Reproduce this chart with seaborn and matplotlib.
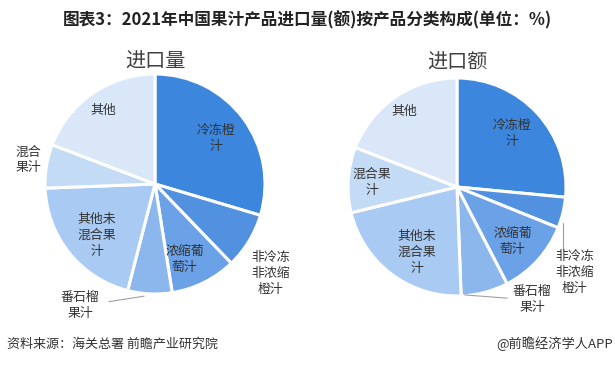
import matplotlib

matplotlib.use("Agg")

import matplotlib.pyplot as plt
import seaborn as sns

sns.set_theme(style="white")
plt.rcParams["font.family"] = ["Noto Sans CJK SC", "DejaVu Sans"]

# data (%), clockwise from 12 o'clock
categories = ["冷冻橙汁", "非冷冻非浓缩橙汁", "浓缩葡萄汁", "番石榴果汁",
              "其他未混合果汁", "混合果汁", "其他"]
volume_share = [29.6, 8.2, 9.7, 6.5, 20.4, 6.4, 19.2]
value_share = [26.5, 4.6, 11.3, 7.0, 21.8, 9.7, 19.1]
label_text = ["冷冻橙\n汁", "非冷冻\n非浓缩\n橙汁", "浓缩葡\n萄汁", "番石榴\n果汁",
              "其他未\n混合果\n汁", "混合\n果汁", "其他"]
label_text_value = ["冷冻橙\n汁", "非冷冻\n非浓缩\n橙汁", "浓缩葡\n萄汁", "番石榴\n果汁",
                    "其他未\n混合果\n汁", "混合果\n汁", "其他"]

colors = ["#3c86dd", "#5290e0", "#6ba1e6", "#8cb7ed", "#a9caf2", "#c4dbf6", "#d9e7f8"]

W, H = 615, 365
fig = plt.figure(figsize=(W / 100, H / 100), dpi=100)


def pie_axes(cx, cy, r):
    ax = fig.add_axes([(cx - r) / W, (H - cy - r) / H, 2 * r / W, 2 * r / H])
    return ax


def draw_pie(ax, values, texts, label_pos, leaders, title, title_y):
    ax.pie(values, colors=colors, startangle=90, counterclock=False, radius=1,
           wedgeprops={"edgecolor": "white", "linewidth": 2.2})
    # pie() resets the limits, so fix them afterwards
    ax.set_xlim(-1, 1)
    ax.set_ylim(-1, 1)
    ax.axis("off")
    for t, (x, y) in zip(texts, label_pos):
        ax.text(x, y, t, ha="center", va="center", fontsize=9.3,
                color="#333333", linespacing=1.3)
    for xs, ys in leaders:
        ax.plot(xs, ys, color="#a0a0a0", lw=0.8, clip_on=False)
    ax.text(0, title_y, title, ha="center", va="center", fontsize=14.5,
            color="#404040")


# label positions in pie units (x right, y up)
left = pie_axes(155, 184, 110)
draw_pie(left, volume_share, label_text,
         [(0.55, 0.41), (1.05, -0.81), (0.27, -0.69), (-0.68, -1.10),
          (-0.53, -0.47), (-1.15, 0.22), (-0.47, 0.67)],
         [([-0.42, -0.10], [-1.07, -1.02])],
         "进口量", 1.11)

right = pie_axes(457, 187, 109)
draw_pie(right, value_share, label_text_value,
         [(0.50, 0.49), (1.08, -0.78), (0.51, -0.50), (0.69, -1.03),
          (-0.37, -0.60), (-0.78, 0.04), (-0.48, 0.69)],
         [([0.97, 0.97], [-0.33, -0.58]), ([0.07, 0.46], [-0.99, -1.02])],
         "进口额", 1.14)

fig.text(307 / W, 1 - 20 / H, "图表3：2021年中国果汁产品进口量(额)按产品分类构成(单位：%)",
         ha="center", va="center", fontsize=12, fontweight="bold", color="#222222")
fig.text(7 / W, 1 - 344 / H, "资料来源：海关总署 前瞻产业研究院",
         ha="left", va="center", fontsize=9.4, color="#333333")
fig.text(613 / W, 1 - 344 / H, "@前瞻经济学人APP",
         ha="right", va="center", fontsize=9.5, color="#333333")

fig.savefig("out.png", dpi=100)
